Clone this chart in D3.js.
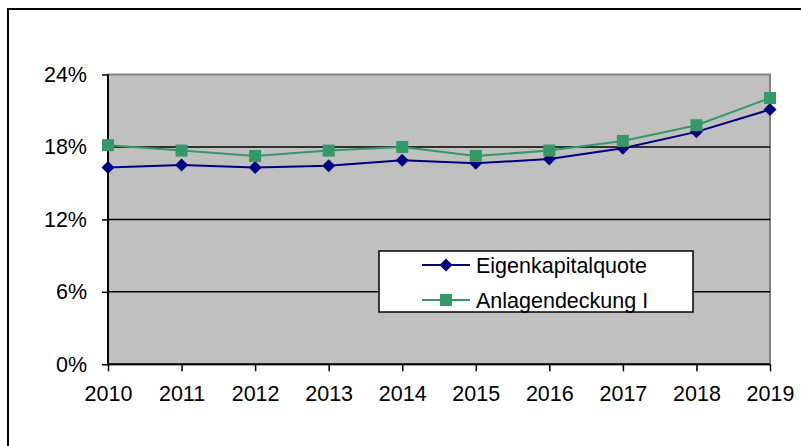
<!DOCTYPE html>
<html>
<head>
<meta charset="utf-8">
<script src="https://cdn.jsdelivr.net/npm/d3@7"></script>
<style>
  body { margin: 0; background: #fff; }
  svg { display: block; font-family: "Liberation Sans", Arial, sans-serif; }
</style>
</head>
<body>
<script>
// Chart data
var years = ["2010", "2011", "2012", "2013", "2014", "2015", "2016", "2017", "2018", "2019"];
var eigenkapitalquote = [16.3, 16.5, 16.3, 16.45, 16.9, 16.65, 17.0, 17.9, 19.25, 21.1];
var anlagendeckung = [18.15, 17.7, 17.25, 17.7, 18.0, 17.25, 17.7, 18.5, 19.8, 22.05];
var yTicks = [0, 6, 12, 18, 24];

var seriesList = [
  { name: "Eigenkapitalquote", values: eigenkapitalquote, color: "#000080", marker: "diamond" },
  { name: "Anlagendeckung I", values: anlagendeckung, color: "#339966", marker: "square" },
];

function setupChart() {
  var svgWidth = 801;
  var svgHeight = 446;

  var plot = { left: 108, right: 770, top: 74.5, bottom: 364.3 };

  var svg = d3
    .select("body")
    .append("svg")
    .attr("width", svgWidth)
    .attr("height", svgHeight);

  // outer chart frame (cut off on the right and bottom)
  svg
    .append("rect")
    .attr("x", 8)
    .attr("y", 9)
    .attr("width", 900)
    .attr("height", 600)
    .attr("fill", "none")
    .attr("stroke", "#000")
    .attr("stroke-width", 2);

  return { svg, plot };
}

function drawMarker(g, type, color) {
  if (type == "diamond") {
    g.append("path")
      .attr("d", "M0,-6.5L6.5,0L0,6.5L-6.5,0Z")
      .attr("fill", color);
  } else {
    g.append("rect")
      .attr("x", -6)
      .attr("y", -6)
      .attr("width", 12)
      .attr("height", 12)
      .attr("fill", color);
  }
}

function main() {
  var { svg, plot } = setupChart();

  var xScale = d3.scalePoint().domain(years).range([plot.left, plot.right]).padding(0);
  var yScale = d3.scaleLinear().domain([0, 24]).range([plot.bottom, plot.top]);

  // plot background
  svg
    .append("rect")
    .attr("x", plot.left)
    .attr("y", plot.top)
    .attr("width", plot.right - plot.left)
    .attr("height", plot.bottom - plot.top)
    .attr("fill", "#c0c0c0")
    .attr("stroke", "#808080")
    .attr("stroke-width", 2);

  // gridlines
  svg
    .selectAll(".grid")
    .data(yTicks.filter((d) => d > 0 && d < 24))
    .enter()
    .append("line")
    .attr("x1", plot.left)
    .attr("x2", plot.right)
    .attr("y1", (d) => yScale(d))
    .attr("y2", (d) => yScale(d))
    .attr("stroke", "#000")
    .attr("stroke-width", 1.5);

  // axes
  var leftAxis = d3
    .axisLeft(yScale)
    .tickValues(yTicks)
    .tickSize(6)
    .tickPadding(15)
    .tickFormat((d) => d + "%");
  var bottomAxis = d3.axisBottom(xScale).tickSize(7).tickPadding(14);

  var yAxis = svg
    .append("g")
    .attr("transform", `translate(${plot.left}, 0)`)
    .call(leftAxis);
  var xAxis = svg
    .append("g")
    .attr("transform", `translate(0, ${plot.bottom})`)
    .call(bottomAxis);

  [xAxis, yAxis].forEach((ax) => {
    ax.select(".domain").attr("stroke", "#000").attr("stroke-width", 2);
    ax.selectAll(".tick line").attr("stroke", "#000").attr("stroke-width", 1.5);
    ax.selectAll(".tick text")
      .attr("fill", "#000")
      .style("font-size", "21.5px")
      .style("font-family", '"Liberation Sans", Arial, sans-serif');
  });
  // domain paths without the outer ticks
  yAxis.select(".domain").attr("d", `M0,${plot.top}V${plot.bottom}`);
  xAxis.select(".domain").attr("d", `M${plot.left},0H${plot.right}`);

  // series lines and markers
  var line = d3
    .line()
    .x((d, i) => xScale(years[i]))
    .y((d) => yScale(d));

  seriesList.forEach((s) => {
    svg
      .append("path")
      .datum(s.values)
      .attr("d", line)
      .attr("fill", "none")
      .attr("stroke", s.color)
      .attr("stroke-width", 2);

    svg
      .selectAll(".pt-" + s.marker)
      .data(s.values)
      .enter()
      .append("g")
      .attr("class", "pt-" + s.marker)
      .attr("transform", (d, i) => `translate(${xScale(years[i])}, ${yScale(d)})`)
      .each(function () {
        drawMarker(d3.select(this), s.marker, s.color);
      });
  });

  // legend
  var legend = svg.append("g").attr("transform", "translate(379, 251)");
  legend
    .append("rect")
    .attr("width", 314)
    .attr("height", 61)
    .attr("fill", "#fff")
    .attr("stroke", "#000")
    .attr("stroke-width", 1.5);

  seriesList.forEach((s, i) => {
    var row = legend.append("g").attr("transform", `translate(0, ${14 + i * 35})`);
    row
      .append("line")
      .attr("x1", 43)
      .attr("x2", 91)
      .attr("stroke", s.color)
      .attr("stroke-width", 2);
    drawMarker(row.append("g").attr("transform", "translate(67, 0)"), s.marker, s.color);
    row
      .append("text")
      .attr("x", 97)
      .attr("dy", "0.35em")
      .style("font-size", "21.5px")
      .text(s.name);
  });
}

main();
</script>
</body>
</html>
